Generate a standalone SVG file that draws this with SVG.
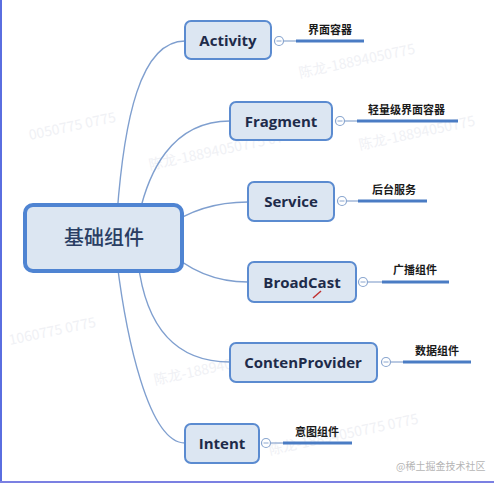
<svg xmlns="http://www.w3.org/2000/svg" width="494" height="483" viewBox="0 0 494 483">
  <style>
    .conn { fill: none; stroke: #7f9fcf; stroke-width: 1.4; }
    .box { fill: #dce6f2; stroke: #5b8bd0; stroke-width: 2; }
    .root { fill: #dce6f2; stroke: #4f84d2; stroke-width: 4; }
    .t { font-family: "Open Sans", "Liberation Sans", sans-serif; font-weight: 700; font-size: 15px; fill: #1e2b4a; text-anchor: middle; }
    .rt { font-family: "Noto Sans CJK SC", sans-serif; font-weight: 500; font-size: 20px; fill: #2a3e63; text-anchor: middle; }
    .lbl { font-family: "Noto Sans CJK SC", sans-serif; font-weight: 700; font-size: 11px; fill: #1a1a1a; }
    .col { fill: #ffffff; stroke: #8aa6cf; stroke-width: 1.2; }
    .minus { stroke: #8aa6cf; stroke-width: 1; }
    .thin { stroke: #8aa6cf; stroke-width: 1.2; }
    .ul { stroke: #4a7cc4; stroke-width: 3; }
    .wm { font-family: "Noto Sans CJK SC", sans-serif; font-size: 14px; fill: #f0f1f5; }
  </style>
  <rect x="0" y="0" width="494" height="483" fill="#ffffff"/>
  <line x1="1" y1="0" x2="1" y2="483" stroke="#5a6ee0" stroke-width="2"/>
  <line x1="0" y1="482" x2="494" y2="482" stroke="#7b80e2" stroke-width="2"/>
  <g id="watermarks">
    <text class="wm" x="300" y="78" transform="rotate(-12 300 78)">陈龙-18894050775</text>
    <text class="wm" x="30" y="140" transform="rotate(-12 30 140)">0050775 0775</text>
    <text class="wm" x="150" y="170" transform="rotate(-12 150 170)">陈龙-18894050775 0775</text>
    <text class="wm" x="360" y="150" transform="rotate(-12 360 150)">陈龙-18894050775</text>
    <text class="wm" x="10" y="345" transform="rotate(-12 10 345)">1060775 0775</text>
    <text class="wm" x="155" y="385" transform="rotate(-12 155 385)">陈龙-18894050775 0775</text>
    <text class="wm" x="270" y="455" transform="rotate(-12 270 455)">陈龙-18894050775 0775</text>
  </g>
  <g id="connectors">
    <path class="conn" d="M117,215 C124,120 140,41 185,41"/>
    <path class="conn" d="M139,215 C148,175 170,121 230,121"/>
    <path class="conn" d="M165,228 Q200,202 248,202"/>
    <path class="conn" d="M165,248 Q200,282 248,282"/>
    <path class="conn" d="M138,262 C145,320 170,362 230,362"/>
    <path class="conn" d="M117,262 C126,335 148,443 185,443"/>
  </g>
  <g id="root">
    <rect class="root" x="25" y="205" width="157" height="66" rx="8"/>
    <text class="rt" x="104" y="245">基础组件</text>
  </g>
  <g id="activity">
    <rect class="box" x="185" y="21" width="86" height="38" rx="6"/>
    <text class="t" x="228" y="46">Activity</text>
    <line class="thin" x1="283" y1="41" x2="297" y2="41"/>
    <circle class="col" cx="279" cy="41" r="4.5"/>
    <line class="minus" x1="276.5" y1="41" x2="281.5" y2="41"/>
    <line class="ul" x1="296" y1="41" x2="364" y2="41"/>
    <text class="lbl" x="308" y="34">界面容器</text>
  </g>
  <g id="fragment">
    <rect class="box" x="230" y="102" width="102" height="38" rx="6"/>
    <text class="t" x="281" y="127">Fragment</text>
    <line class="thin" x1="344" y1="121" x2="358" y2="121"/>
    <circle class="col" cx="340" cy="121" r="4.5"/>
    <line class="minus" x1="337.5" y1="121" x2="342.5" y2="121"/>
    <line class="ul" x1="357" y1="121" x2="458" y2="121"/>
    <text class="lbl" x="368" y="114">轻量级界面容器</text>
  </g>
  <g id="service">
    <rect class="box" x="248" y="182" width="86" height="39" rx="6"/>
    <text class="t" x="291" y="207">Service</text>
    <line class="thin" x1="346" y1="201" x2="359" y2="201"/>
    <circle class="col" cx="342" cy="201" r="4.5"/>
    <line class="minus" x1="339.5" y1="201" x2="344.5" y2="201"/>
    <line class="ul" x1="358" y1="201" x2="427" y2="201"/>
    <text class="lbl" x="372" y="194">后台服务</text>
  </g>
  <g id="broadcast">
    <rect class="box" x="248" y="262" width="108" height="40" rx="6"/>
    <text class="t" x="302" y="288">BroadCast</text>
    <line class="thin" x1="367" y1="282" x2="383" y2="282"/>
    <circle class="col" cx="363" cy="282" r="4.5"/>
    <line class="minus" x1="360.5" y1="282" x2="365.5" y2="282"/>
    <line class="ul" x1="382" y1="282" x2="449" y2="282"/>
    <text class="lbl" x="393" y="274">广播组件</text>
    <line x1="313" y1="298" x2="321" y2="291" stroke="#c03030" stroke-width="1.5"/>
  </g>
  <g id="contenprovider">
    <rect class="box" x="230" y="343" width="147" height="39" rx="6"/>
    <text class="t" x="303" y="368">ContenProvider</text>
    <line class="thin" x1="390" y1="362" x2="404" y2="362"/>
    <circle class="col" cx="386" cy="362" r="4.5"/>
    <line class="minus" x1="383.5" y1="362" x2="388.5" y2="362"/>
    <line class="ul" x1="403" y1="362" x2="471" y2="362"/>
    <text class="lbl" x="415" y="355">数据组件</text>
  </g>
  <g id="intent">
    <rect class="box" x="185" y="424" width="74" height="39" rx="6"/>
    <text class="t" x="222" y="449">Intent</text>
    <line class="thin" x1="270" y1="443" x2="284" y2="443"/>
    <circle class="col" cx="266" cy="443" r="4.5"/>
    <line class="minus" x1="263.5" y1="443" x2="268.5" y2="443"/>
    <line class="ul" x1="283" y1="443" x2="352" y2="443"/>
    <text class="lbl" x="295" y="436">意图组件</text>
  </g>
  <text x="396" y="470" font-family="Noto Sans CJK SC, sans-serif" font-size="10" fill="#b5b5b5">@稀土掘金技术社区</text>
</svg>
